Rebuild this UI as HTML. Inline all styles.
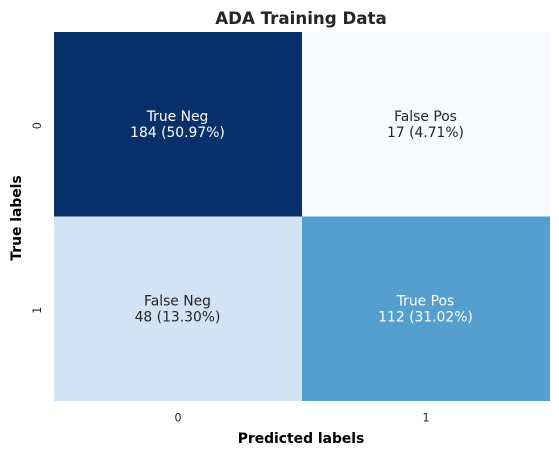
<!DOCTYPE html>
<html lang="en">
<head>
<meta charset="utf-8">
<title>ADA Training Data</title>
<style>
html,body{margin:0;padding:0;background:#fff;width:559px;height:455px;overflow:hidden}
svg{display:block}
text{font-family:"DejaVu Sans","Liberation Sans",sans-serif;fill:#262626}
</style>
</head>
<body>
<svg id="chart" xmlns="http://www.w3.org/2000/svg" width="559" height="455" viewBox="0 0 559 455">
<text x="301" y="24" text-anchor="middle" font-size="16.67" font-weight="bold">ADA Training Data</text>
<text x="301" y="443" text-anchor="middle" font-size="13.89" font-weight="bold" style="fill:#000">Predicted labels</text>
<text transform="translate(21,218) rotate(-90)" text-anchor="middle" font-size="13.89" font-weight="bold" style="fill:#000">True labels</text>
<g id="cells"></g>
<g id="ticks"></g>
</svg>
<script>
const xCategories = ['0', '1'];
const yCategories = ['0', '1'];
const cellNames = [['True Neg', 'False Pos'], ['False Neg', 'True Pos']];
const cellCounts = [[184, 17], [48, 112]];

const plotLeft = 54, plotRight = 550, plotTop = 32, plotBottom = 401;
const NS = 'http://www.w3.org/2000/svg';
const blues = [[247,251,255],[222,235,247],[198,219,239],[158,202,225],[107,174,214],[66,146,198],[33,113,181],[8,81,156],[8,48,107]];

function xScale(i) { return plotLeft + i * (plotRight - plotLeft) / xCategories.length; }
function yScale(i) { return plotTop + i * (plotBottom - plotTop) / yCategories.length; }
function colorFor(t) {
  const p = Math.max(0, Math.min(1, t)) * (blues.length - 1);
  const i = Math.min(Math.floor(p), blues.length - 2);
  const f = p - i;
  const c = blues[i].map((v, k) => Math.round(v + (blues[i + 1][k] - v) * f));
  return { css: 'rgb(' + c.join(',') + ')', lum: (0.2126 * c[0] + 0.7152 * c[1] + 0.0722 * c[2]) / 255 };
}
function svgEl(tag, attrs) {
  const el = document.createElementNS(NS, tag);
  for (const k in attrs) el.setAttribute(k, attrs[k]);
  return el;
}

const allCounts = cellCounts.flat();
const minCount = Math.min(...allCounts);
const maxCount = Math.max(...allCounts);
const totalCount = allCounts.reduce((a, b) => a + b, 0);
const cellsGroup = document.getElementById('cells');
const ticksGroup = document.getElementById('ticks');

cellCounts.forEach((row, r) => {
  row.forEach((value, c) => {
    const color = colorFor((value - minCount) / (maxCount - minCount));
    const x0 = xScale(c), x1 = xScale(c + 1), y0 = yScale(r), y1 = yScale(r + 1);
    const rect = svgEl('rect', { x: x0, y: y0, width: x1 - x0, height: y1 - y0, fill: color.css });
    
    
    cellsGroup.appendChild(rect);

    const cx = (x0 + x1) / 2 - 0.5, cy = (y0 + y1) / 2;
    const ink = color.lum < 0.6 ? '#ffffff' : '#262626';
    const nameText = svgEl('text', { x: cx, y: cy - 3.5, 'text-anchor': 'middle', 'font-size': 13.89, style: 'fill:' + ink });
    nameText.textContent = cellNames[r][c];
    
    
    cellsGroup.appendChild(nameText);

    const valueText = svgEl('text', { x: cx, y: cy + 12.5, 'text-anchor': 'middle', 'font-size': 13.89, style: 'fill:' + ink });
    valueText.textContent = value + ' (' + (value / totalCount * 100).toFixed(2) + '%)';
    
    
    cellsGroup.appendChild(valueText);
  });
});

xCategories.forEach((label, i) => {
  const t = svgEl('text', { x: (xScale(i) + xScale(i + 1)) / 2, y: 421.5, 'text-anchor': 'middle', 'font-size': 11.11 });
  t.textContent = label;
  
  
  ticksGroup.appendChild(t);
});

yCategories.forEach((label, i) => {
  const cy = (yScale(i) + yScale(i + 1)) / 2 + 1.5;
  const t = svgEl('text', { transform: 'translate(41,' + cy + ') rotate(-90)', 'text-anchor': 'middle', 'font-size': 11.11 });
  t.textContent = label;
  
  
  ticksGroup.appendChild(t);
});
</script>
</body>
</html>
